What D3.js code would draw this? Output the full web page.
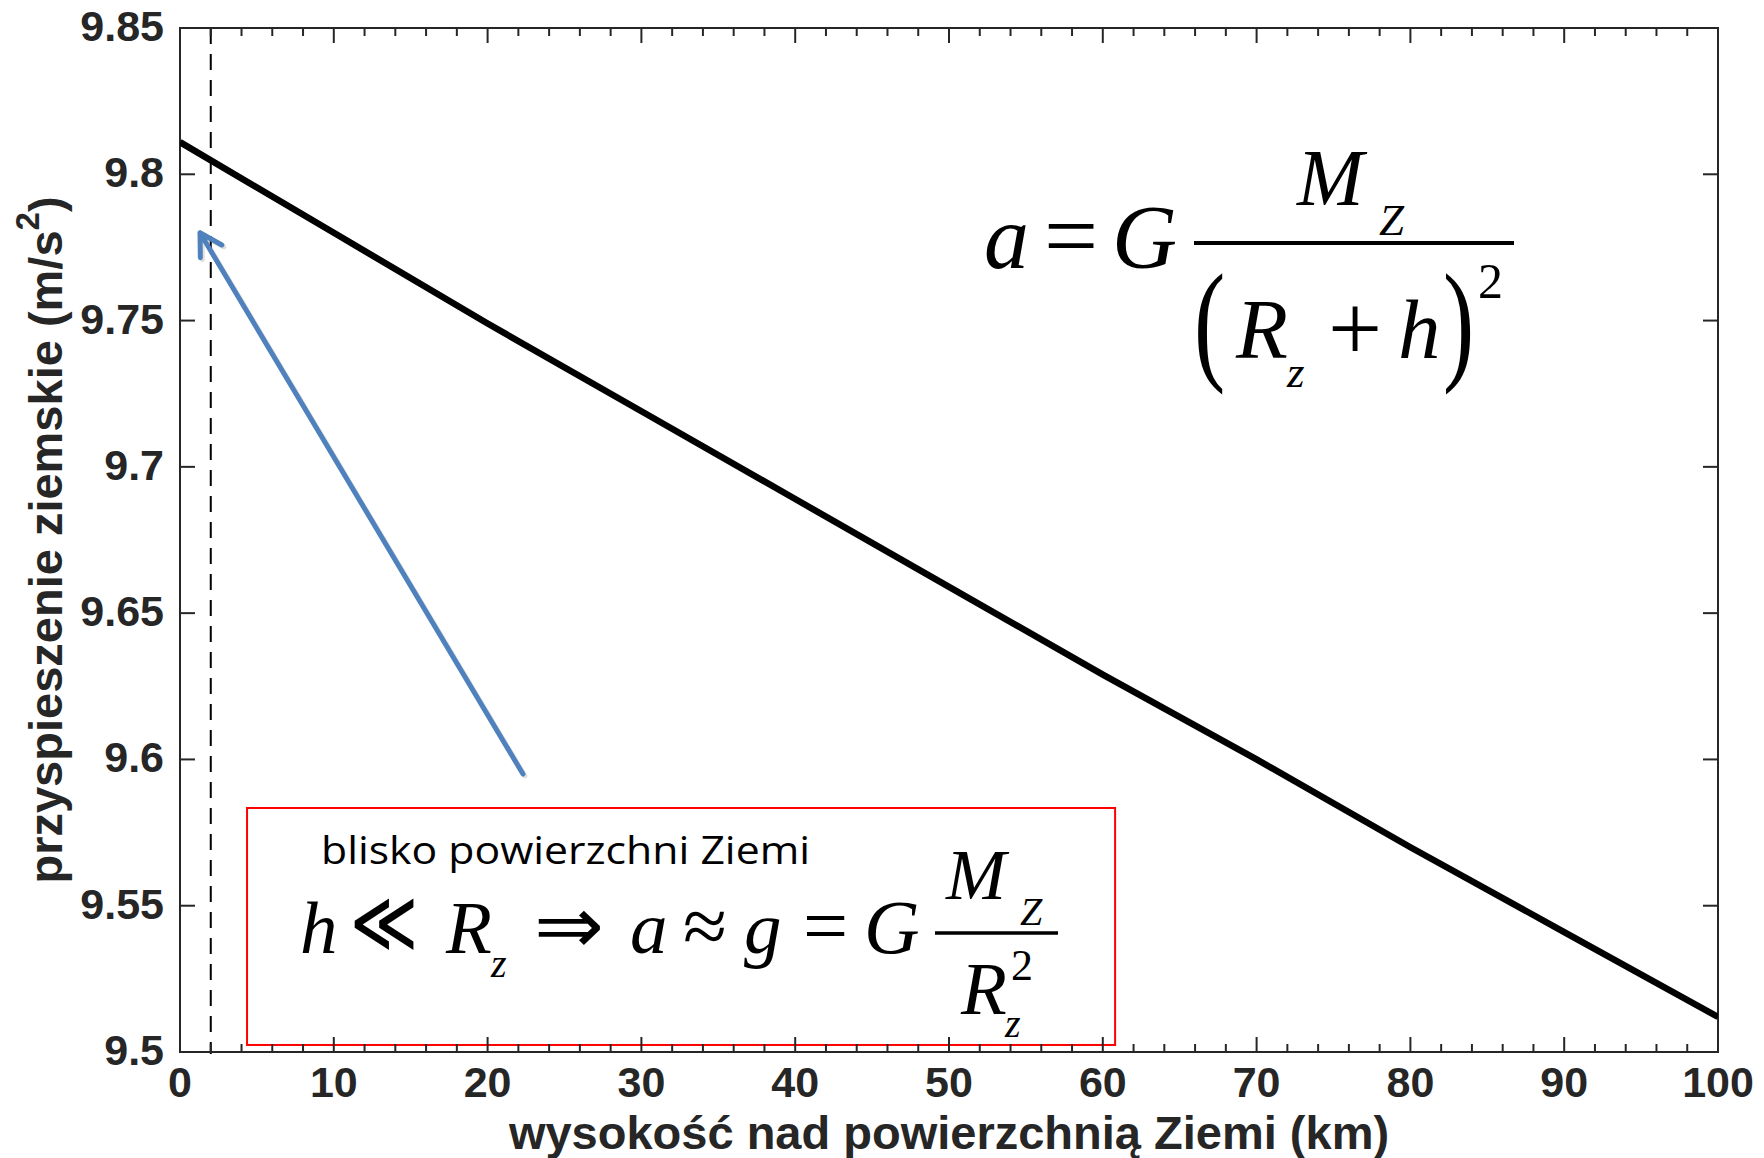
<!DOCTYPE html>
<html>
<head>
<meta charset="utf-8">
<script src="https://cdn.jsdelivr.net/npm/d3@7"></script>
<style>
    html, body { margin: 0; padding: 0; background: #fff; }
    svg { display: block; }
</style>
</head>
<body>
<div id="chart"></div>
<script>
'use strict';

// wartości
var heightKm = [0, 10, 20, 30, 40, 50, 60, 70, 80, 90, 100];
var accel = [9.811, 9.780, 9.749, 9.719, 9.689, 9.659, 9.629, 9.600, 9.570, 9.541, 9.512];

var xTicks = [0, 10, 20, 30, 40, 50, 60, 70, 80, 90, 100];
var xTickLabels = ['0', '10', '20', '30', '40', '50', '60', '70', '80', '90', '100'];
var yTicks = [9.5, 9.55, 9.6, 9.65, 9.7, 9.75, 9.8, 9.85];
var yTickLabels = ['9.5', '9.55', '9.6', '9.65', '9.7', '9.75', '9.8', '9.85'];

var surfaceKm = 2;
var arrowFrom = [22.3, 9.595], arrowTo = [1.3, 9.780];
var boxX = [4.36, 60.8], boxY = [9.5024, 9.5834];

var xTitle = 'wysokość nad powierzchnią Ziemi (km)';
var yTitle = 'przyspieszenie ziemskie (m/s';
var boxText = 'blisko powierzchni Ziemi';

var svgWidth = 1764, svgHeight = 1158,
    margin = {top: 28, right: 46, bottom: 106, left: 180},
    axisColor = '#262626',
    sansBold = '"Liberation Sans", Arial, Helvetica, sans-serif',
    serif = '"Liberation Serif", "Times New Roman", "DejaVu Serif", serif';

var svg = d3.select('#chart')
    .append('svg')
    .attr('width', svgWidth)
    .attr('height', svgHeight);

var x = d3.scaleLinear().domain([0, 100]).range([margin.left, svgWidth - margin.right]);
var y = d3.scaleLinear().domain([9.5, 9.85]).range([svgHeight - margin.bottom, margin.top]);

var x0 = x.range()[0], x1 = x.range()[1], y0 = y.range()[0], y1 = y.range()[1];

svg.append('defs').append('clipPath')
    .attr('id', 'plot-clip')
    .append('rect')
    .attr('x', x0).attr('y', y1)
    .attr('width', x1 - x0).attr('height', y0 - y1);

// linia przerywana h = 2 km
svg.append('line')
    .attr('x1', x(surfaceKm)).attr('x2', x(surfaceKm))
    .attr('y1', y1).attr('y2', y0 + 2)
    .attr('stroke', '#000')
    .attr('stroke-width', 2)
    .attr('stroke-dasharray', '16,10');

// ramka z przybliżeniem
svg.append('rect')
    .attr('x', x(boxX[0])).attr('y', y(boxY[1]))
    .attr('width', x(boxX[1]) - x(boxX[0]))
    .attr('height', y(boxY[0]) - y(boxY[1]))
    .attr('fill', 'none')
    .attr('stroke', '#ff0000')
    .attr('stroke-width', 2);

// osie (ticki do środka na wszystkich bokach)
function drawAxes() {
    var minor = x.ticks(50);
    var g = svg.append('g').attr('stroke', axisColor).attr('stroke-width', 2).attr('fill', 'none');

    g.selectAll('.xtick-b').data(minor).enter().append('line')
        .attr('x1', function (d) { return x(d); }).attr('x2', function (d) { return x(d); })
        .attr('y1', y0).attr('y2', function (d) { return y0 - (d % 10 === 0 ? 15 : 8); });
    g.selectAll('.xtick-t').data(minor).enter().append('line')
        .attr('x1', function (d) { return x(d); }).attr('x2', function (d) { return x(d); })
        .attr('y1', y1).attr('y2', function (d) { return y1 + (d % 10 === 0 ? 15 : 8); });
    g.selectAll('.ytick-l').data(yTicks).enter().append('line')
        .attr('x1', x0).attr('x2', x0 + 15)
        .attr('y1', function (d) { return y(d); }).attr('y2', function (d) { return y(d); });
    g.selectAll('.ytick-r').data(yTicks).enter().append('line')
        .attr('x1', x1).attr('x2', x1 - 15)
        .attr('y1', function (d) { return y(d); }).attr('y2', function (d) { return y(d); });

    g.append('rect')
        .attr('x', x0).attr('y', y1)
        .attr('width', x1 - x0).attr('height', y0 - y1);

    svg.selectAll('.xlabel').data(xTicks).enter().append('text')
        .attr('x', function (d) { return x(d); })
        .attr('y', y0 + 45)
        .attr('text-anchor', 'middle')
        .style('font', 'bold 43px ' + sansBold)
        .attr('fill', axisColor)
        .text(function (d, i) { return xTickLabels[i]; });

    svg.selectAll('.ylabel').data(yTicks).enter().append('text')
        .attr('x', x0 - 16)
        .attr('y', function (d) { return y(d) + 13; })
        .attr('text-anchor', 'end')
        .style('font', 'bold 43px ' + sansBold)
        .attr('fill', axisColor)
        .text(function (d, i) { return yTickLabels[i]; });

    svg.append('text')
        .attr('x', (x0 + x1) / 2)
        .attr('y', 1149)
        .attr('text-anchor', 'middle')
        .style('font', 'bold 47px ' + sansBold)
        .attr('fill', axisColor)
        .text(xTitle);

    var yt = svg.append('text')
        .attr('transform', 'translate(62,' + ((y0 + y1) / 2) + ') rotate(-90)')
        .attr('text-anchor', 'middle')
        .style('font', 'bold 47px ' + sansBold)
        .attr('fill', axisColor);
    yt.append('tspan').text(yTitle);
    yt.append('tspan').attr('dy', -23).style('font-size', '33px').text('2');
    yt.append('tspan').attr('dy', 23).text(')');
}

drawAxes();

// krzywa a(h)
var line = d3.line()
    .x(function (d, i) { return x(heightKm[i]); })
    .y(function (d) { return y(d); });

svg.append('path')
    .datum(accel)
    .attr('clip-path', 'url(#plot-clip)')
    .attr('d', line)
    .attr('fill', 'none')
    .attr('stroke', '#000')
    .attr('stroke-width', 6.5);

// strzałka
function drawArrow() {
    var ax = x(arrowFrom[0]), ay = y(arrowFrom[1]), bx = x(arrowTo[0]), by = y(arrowTo[1]);
    var ang = Math.atan2(ay - by, ax - bx), len = 25, spread = Math.PI / 6;
    var head = 'M' + (bx + len * Math.cos(ang - spread)) + ',' + (by + len * Math.sin(ang - spread)) +
        'L' + bx + ',' + by +
        'L' + (bx + len * Math.cos(ang + spread)) + ',' + (by + len * Math.sin(ang + spread));
    var shaft = 'M' + ax + ',' + ay + 'L' + bx + ',' + by;

    [['rgba(0,0,0,0.12)', 2], ['#4f81bd', 0]].forEach(function (s) {
        svg.append('path')
            .attr('d', shaft + head)
            .attr('transform', 'translate(' + s[1] + ',' + s[1] + ')')
            .attr('fill', 'none')
            .attr('stroke', s[0])
            .attr('stroke-width', 5)
            .attr('stroke-linecap', 'round')
            .attr('stroke-linejoin', 'round');
    });
}

drawArrow();

// wzory: jeden element <text> na wzór, kawałki jako tspan; nawiasy osobno (skalowane)
function drawFormula(ox, oy, pieces, bars, parens) {
    var g = svg.append('g').attr('transform', 'translate(' + ox + ',' + oy + ')');
    var t = g.append('text')
        .style('font-family', serif)
        .attr('fill', '#000');
    pieces.forEach(function (p) {
        var ts = t.append('tspan')
            .attr('x', p.x)
            .attr('y', p.y)
            .style('font-size', p.s + 'px')
            .style('font-style', p.it ? 'italic' : 'normal')
            .text(p.t);
        if (p.f) {
            ts.style('font-family', p.f);
        }
        if (p.len) {
            ts.attr('textLength', p.len).attr('lengthAdjust', 'spacingAndGlyphs');
        }
    });
    bars.forEach(function (b) {
        g.append('rect')
            .attr('x', b.x1).attr('y', b.y - b.w / 2)
            .attr('width', b.x2 - b.x1).attr('height', b.w)
            .attr('fill', '#000');
    });
    (parens || []).forEach(function (p) {
        g.append('text')
            .attr('transform', 'translate(' + p.x + ',' + p.y + ') scale(0.7,1)')
            .style('font-family', serif)
            .style('font-size', p.s + 'px')
            .attr('fill', '#000')
            .text(p.t);
    });
}

drawFormula(984, 268, [
    {t: 'a', x: 0, y: 0, s: 90, it: true},
    {t: '=', x: 60, y: 0, s: 96},
    {t: 'G', x: 128, y: 0, s: 90, it: true},
    {t: 'M', x: 313, y: -63, s: 80, it: true},
    {t: 'Z', x: 395, y: -33, s: 45, it: true},
    {t: 'R', x: 252, y: 90, s: 85, it: true},
    {t: 'z', x: 303, y: 119, s: 45, it: true},
    {t: '+', x: 344, y: 92, s: 96},
    {t: 'h', x: 414, y: 90, s: 85, it: true},
    {t: '2', x: 494, y: 30, s: 50}
], [{x1: 210, x2: 530, y: -25, w: 4}], [
    {t: '(', x: 210, y: 98, s: 134},
    {t: ')', x: 459, y: 98, s: 134}
]);

drawFormula(300, 953, [
    {t: 'h', x: 0, y: 0, s: 75, it: true},
    {t: '\u226A', x: 50, y: -1, s: 88, f: '"DejaVu Serif", serif', len: 68},
    {t: 'R', x: 146, y: 0, s: 75, it: true},
    {t: 'z', x: 191, y: 24, s: 40, it: true},
    {t: '\u21D2', x: 234, y: 0, s: 80, f: '"DejaVu Sans", sans-serif', len: 70},
    {t: 'a', x: 330, y: 0, s: 75, it: true},
    {t: '\u2248', x: 383, y: 0, s: 80},
    {t: 'g', x: 444, y: 0, s: 75, it: true},
    {t: '=', x: 503, y: 0, s: 80},
    {t: 'G', x: 564, y: 0, s: 77, it: true},
    {t: 'M', x: 646, y: -54, s: 72, it: true},
    {t: 'Z', x: 720, y: -28, s: 40, it: true},
    {t: 'R', x: 661, y: 61, s: 75, it: true},
    {t: '2', x: 711, y: 27, s: 44},
    {t: 'z', x: 705, y: 84, s: 40, it: true}
], [{x1: 635, x2: 758, y: -20, w: 3.5}]);

svg.append('text')
    .attr('x', 321)
    .attr('y', 864)
    .style('font', '39px "Open Sans", "Noto Sans", sans-serif')
    .attr('textLength', 489)
    .attr('lengthAdjust', 'spacingAndGlyphs')
    .attr('fill', '#000')
    .text(boxText);
</script>
</body>
</html>
